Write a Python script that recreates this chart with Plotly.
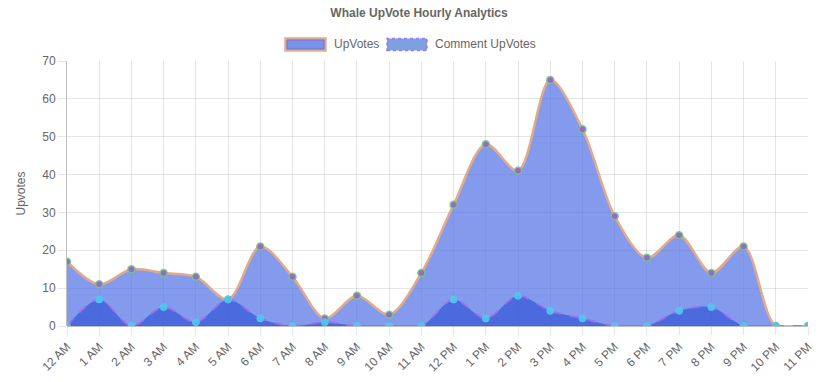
import plotly.graph_objects as go

hours = ["12 AM", "1 AM", "2 AM", "3 AM", "4 AM", "5 AM", "6 AM", "7 AM", "8 AM", "9 AM", "10 AM", "11 AM",
         "12 PM", "1 PM", "2 PM", "3 PM", "4 PM", "5 PM", "6 PM", "7 PM", "8 PM", "9 PM", "10 PM", "11 PM"]
upvotes = [17, 11, 15, 14, 13, 7, 21, 13, 2, 8, 3, 14, 32, 48, 41, 65, 52, 29, 18, 24, 14, 21, 0, 0]
comment_upvotes = [0, 7, 0, 5, 1, 7, 2, 0, 1, 0, 0, 0, 7, 2, 8, 4, 2, 0, 0, 4, 5, 0, 0, 0]
y_ticks = [0, 10, 20, 30, 40, 50, 60, 70]
series_names = ["UpVotes", "Comment UpVotes"]

FONT = "Liberation Sans, Arial, Helvetica, sans-serif"
GRID = "rgba(0,0,0,0.1)"
W, H = 838, 382
ML, MR, MT, MB = 67, 30, 61, 56
PW, PH = W - ML - MR, H - MT - MB

UP_LINE = "rgb(225,170,140)"
UP_FILL = "rgba(85,115,230,0.72)"
CM_LINE = "rgba(160,110,235,0.9)"
CM_FILL = "rgba(55,90,215,0.75)"

fig = go.Figure()

fig.add_trace(go.Scatter(
    x=hours, y=upvotes, mode="lines+markers", name=series_names[0],
    line=dict(color=UP_LINE, width=2.5, shape="spline", smoothing=0.9),
    fill="tozeroy", fillcolor=UP_FILL,
    marker=dict(size=7, color="rgba(150,100,200,0.95)", line=dict(color="rgba(120,200,130,0.9)", width=1.5)),
    showlegend=False,
))
fig.add_trace(go.Scatter(
    x=hours, y=comment_upvotes, mode="lines+markers", name=series_names[1],
    line=dict(color=CM_LINE, width=2, dash="dash", shape="spline", smoothing=0.9),
    fill="tozeroy", fillcolor=CM_FILL,
    marker=dict(size=7, color="rgba(80,200,240,0.9)", line=dict(color="rgba(80,200,240,0.9)", width=1)),
    showlegend=False,
))


def px_x(px):
    return (px - ML) / PW


def px_y(py):
    return (H - MB - py) / PH


# Chart.js-style box legend drawn in paper coordinates
legend_items = [
    (285.5, series_names[0], "rgb(120,145,235)", UP_LINE, "solid", 2.5),
    (387, series_names[1], "rgb(125,160,225)", CM_LINE, "dot", 1.5),
]
shapes = []
annotations = []
for x0, name, fillc, linec, dash, lw in legend_items:
    shapes.append(dict(type="rect", xref="paper", yref="paper",
                       x0=px_x(x0), x1=px_x(x0 + 40), y0=px_y(50.5), y1=px_y(38.5),
                       fillcolor=fillc, line=dict(color=linec, width=lw, dash=dash)))
    if name == series_names[0]:
        shapes.append(dict(type="rect", xref="paper", yref="paper",
                           x0=px_x(x0 + 1.5), x1=px_x(x0 + 38.5), y0=px_y(49), y1=px_y(40),
                           fillcolor="rgba(0,0,0,0)", line=dict(color="rgba(110,110,200,0.8)", width=1)))
    annotations.append(dict(xref="paper", yref="paper", x=px_x(x0 + 46), y=px_y(44.5),
                            text=name, showarrow=False, xanchor="left", yanchor="middle",
                            font=dict(family=FONT, size=12, color="#666")))

fig.update_layout(
    width=W, height=H,
    margin=dict(l=ML, r=MR, t=MT, b=MB),
    paper_bgcolor="white", plot_bgcolor="white",
    font=dict(family=FONT, size=12, color="#666"),
    title=dict(text="<b>Whale UpVote Hourly Analytics</b>", x=0.5, xanchor="center",
               y=1 - 13 / H, yanchor="middle",
               font=dict(family=FONT, size=12, color="#666")),
    showlegend=False,
    shapes=shapes,
    annotations=annotations,
    xaxis=dict(type="category", range=[0, 23], showgrid=True, gridcolor=GRID,
               ticks="outside", ticklen=8, tickcolor=GRID, tickangle=-45,
               showline=False, zeroline=False, automargin=False,
               tickfont=dict(size=12, color="#666")),
    yaxis=dict(range=[0, 70], tickvals=y_ticks, showgrid=True, gridcolor=GRID,
               ticks="outside", ticklen=8, tickcolor=GRID, showline=True, linecolor="rgba(0,0,0,0.25)",
               zeroline=True, zerolinecolor="rgba(0,0,0,0.25)", automargin=False,
               title=dict(text="Upvotes", font=dict(size=12, color="#666"), standoff=14),
               tickfont=dict(size=12, color="#666")),
)

fig.write_html("out.html", config={"displayModeBar": False},
               post_script="document.body.style.margin='0';document.body.style.overflow='hidden';")
